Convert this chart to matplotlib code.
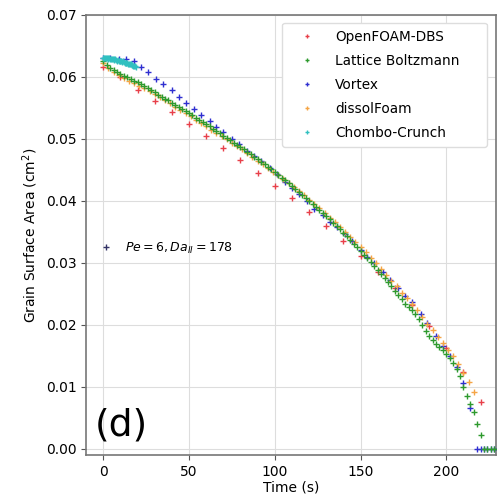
import matplotlib
matplotlib.use("Agg")
import matplotlib.pyplot as plt
from matplotlib.lines import Line2D

# ==========================================================
# Data
# ==========================================================

dbs_t = [0, 10, 20, 30, 40, 50, 60, 70, 80, 90, 100, 110, 120, 130, 140,
         150, 160, 170, 180, 190, 200, 210, 220]
dbs_a = [0.0616, 0.0600, 0.0579, 0.0561, 0.0543, 0.0524, 0.0505, 0.0485,
         0.0466, 0.0445, 0.0424, 0.0405, 0.0382, 0.0360, 0.0335, 0.0311,
         0.0285, 0.0260, 0.0232, 0.0198, 0.0163, 0.0124, 0.0076]

lbm_t = [0, 2, 4, 6, 8, 10, 12, 14, 16, 18, 20, 22, 24, 26, 28, 30, 32, 34,
         36, 38, 40, 42, 44, 46, 48, 50, 52, 54, 56, 58, 60, 62, 64, 66, 68,
         70, 72, 74, 76, 78, 80, 82, 84, 86, 88, 90, 92, 94, 96, 98, 100,
         102, 104, 106, 108, 110, 112, 114, 116, 118, 120, 122, 124, 126,
         128, 130, 132, 134, 136, 138, 140, 142, 144, 146, 148, 150, 152,
         154, 156, 158, 160, 162, 164, 166, 168, 170, 172, 174, 176, 178,
         180, 182, 184, 186, 188, 190, 192, 194, 196, 198, 200, 202, 204,
         206, 208, 210, 212, 214, 216, 218, 220, 222, 224, 226, 228, 230]
lbm_a = [0.0625, 0.0619, 0.0615, 0.0611, 0.0608, 0.0605, 0.0602, 0.0599,
         0.0597, 0.0594, 0.0591, 0.0588, 0.0585, 0.0582, 0.0578, 0.0575,
         0.0571, 0.0568, 0.0565, 0.0562, 0.0558, 0.0555, 0.0552, 0.0548,
         0.0545, 0.0541, 0.0538, 0.0534, 0.0531, 0.0527, 0.0524, 0.0520,
         0.0516, 0.0513, 0.0509, 0.0505, 0.0502, 0.0498, 0.0494, 0.0490,
         0.0487, 0.0483, 0.0479, 0.0475, 0.0471, 0.0467, 0.0463, 0.0459,
         0.0455, 0.0451, 0.0446, 0.0442, 0.0437, 0.0433, 0.0428, 0.0424,
         0.0419, 0.0414, 0.0410, 0.0405, 0.0400, 0.0395, 0.0390, 0.0385,
         0.0380, 0.0375, 0.0370, 0.0364, 0.0359, 0.0354, 0.0348, 0.0343,
         0.0337, 0.0331, 0.0325, 0.0319, 0.0313, 0.0307, 0.0301, 0.0295,
         0.0288, 0.0282, 0.0275, 0.0269, 0.0262, 0.0255, 0.0248, 0.0241,
         0.0234, 0.0228, 0.0224, 0.0218, 0.0209, 0.0199, 0.0190, 0.0182,
         0.0175, 0.0169, 0.0164, 0.0159, 0.0153, 0.0146, 0.0138, 0.0129,
         0.0118, 0.0100, 0.0085, 0.0072, 0.0060, 0.0040, 0.0022, 0.0,
         0.0, 0.0, 0.0, 0.0]

vortex_t = [0, 4, 9, 13, 18, 22, 26, 31, 35, 40, 44, 48, 53, 57, 62, 66, 70,
            75, 79, 84, 88, 92, 97, 101, 106, 110, 114, 119, 123, 128, 132,
            136, 141, 145, 150, 154, 158, 163, 167, 172, 176, 180, 185, 189,
            194, 198, 202, 206, 210, 214, 218, 220, 222, 224, 226, 228, 230]
vortex_a = [0.0630, 0.0630, 0.0629, 0.0628, 0.0625, 0.0616, 0.0608, 0.0597,
            0.0589, 0.0578, 0.0568, 0.0558, 0.0548, 0.0538, 0.0529, 0.0519,
            0.0511, 0.0500, 0.0491, 0.0481, 0.0472, 0.0464, 0.0453, 0.0444,
            0.0431, 0.0420, 0.0411, 0.0399, 0.0387, 0.0377, 0.0366, 0.0357,
            0.0346, 0.0335, 0.0320, 0.0310, 0.0299, 0.0285, 0.0273, 0.0259,
            0.0247, 0.0236, 0.0218, 0.0203, 0.0182, 0.0166, 0.0150, 0.0132,
            0.0106, 0.0066, 0.0, 0.0, 0.0, 0.0, 0.0, 0.0, 0.0]

dissol_t = [0, 3, 6, 9, 12, 15, 18, 21, 24, 27, 30, 33, 36, 39, 42, 45, 48,
            51, 54, 57, 60, 63, 66, 69, 72, 75, 78, 81, 84, 87, 90, 93, 96,
            99, 102, 105, 108, 111, 114, 117, 120, 123, 126, 129, 132, 135,
            138, 141, 144, 147, 150, 153, 156, 159, 162, 165, 168, 171, 174,
            177, 180, 183, 186, 189, 192, 195, 198, 201, 204, 207, 210, 213,
            216]
dissol_a = [0.0622, 0.0614, 0.0608, 0.0603, 0.0598, 0.0594, 0.0590, 0.0586,
            0.0582, 0.0577, 0.0572, 0.0567, 0.0562, 0.0557, 0.0552, 0.0547,
            0.0542, 0.0537, 0.0531, 0.0526, 0.0521, 0.0515, 0.0510, 0.0505,
            0.0499, 0.0494, 0.0488, 0.0483, 0.0477, 0.0471, 0.0465, 0.0459,
            0.0453, 0.0447, 0.0441, 0.0435, 0.0429, 0.0422, 0.0416, 0.0409,
            0.0402, 0.0395, 0.0388, 0.0381, 0.0373, 0.0366, 0.0358, 0.0350,
            0.0342, 0.0334, 0.0325, 0.0317, 0.0308, 0.0299, 0.0290, 0.0281,
            0.0271, 0.0262, 0.0252, 0.0243, 0.0234, 0.0224, 0.0213, 0.0202,
            0.0192, 0.0181, 0.0170, 0.0160, 0.0150, 0.0137, 0.0122, 0.0108,
            0.0092]

chombo_t = [0, 0.5, 1, 1.5, 2, 2.5, 3, 3.5, 4, 4.5, 5, 5.5, 6, 6.5, 7, 7.5,
            8, 8.5, 9, 9.5, 10, 10.5, 11, 11.5, 12, 12.5, 13, 13.5, 14, 14.5,
            15, 15.5, 16, 16.5, 17, 17.5, 18, 18.5, 19]
chombo_a = [0.0630, 0.0631, 0.0630, 0.0631, 0.0630, 0.0630, 0.0629, 0.0630,
            0.0629, 0.0629, 0.0628, 0.0629, 0.0628, 0.0627, 0.0628, 0.0627,
            0.0626, 0.0627, 0.0626, 0.0625, 0.0626, 0.0625, 0.0624, 0.0625,
            0.0624, 0.0623, 0.0623, 0.0622, 0.0622, 0.0621, 0.0621, 0.0620,
            0.0620, 0.0619, 0.0619, 0.0618, 0.0617, 0.0617, 0.0616]

# ==========================================================
# Plot
# ==========================================================

fig = plt.figure(figsize=(4.98, 4.95), dpi=100)
ax = fig.add_axes([0.173, 0.081, 0.823, 0.889])

ms = 4
ax.plot(dbs_t, dbs_a, "+", color="#e8404a", ms=ms, mew=1.0,
        label="OpenFOAM-DBS", zorder=3)
ax.plot(lbm_t, lbm_a, "+", color="#2e9a2e", ms=ms, mew=1.0,
        label="Lattice Boltzmann", zorder=4)
ax.plot(vortex_t, vortex_a, "+", color="#2f2fd0", ms=ms, mew=1.0,
        label="Vortex", zorder=3)
ax.plot(dissol_t, dissol_a, "+", color="#f5a545", ms=ms, mew=1.0,
        label="dissolFoam", zorder=3)
ax.plot(chombo_t, chombo_a, "+", color="#30c0c0", ms=ms, mew=1.0,
        label="Chombo-Crunch", zorder=5)

ax.set_xlim(-10, 229)
ax.set_ylim(-0.001, 0.07)
ax.set_xticks([0, 50, 100, 150, 200])
ax.set_yticks([0.0, 0.01, 0.02, 0.03, 0.04, 0.05, 0.06, 0.07])
ax.set_yticklabels([f"{v:.2f}" for v in ax.get_yticks()])
ax.tick_params(labelsize=10, color="#555555")
ax.grid(True, color="#dddddd", lw=0.8)
ax.set_axisbelow(True)
for s in ax.spines.values():
    s.set_color("#777777")
    s.set_linewidth(1.2)

ax.set_xlabel("Time (s)", fontsize=10, labelpad=1)
ax.set_ylabel("Grain Surface Area (cm$^2$)", fontsize=10, labelpad=4)

# wide legend box, text left-aligned with empty room on the right
leg = ax.legend(loc="upper left", bbox_to_anchor=(0.478, 0.982, 0.5, 0.0),
                mode="expand", borderaxespad=0.0, fontsize=9.8,
                markerscale=0.6, handlelength=2.6, handletextpad=0.8,
                borderpad=0.5, labelspacing=0.74,
                framealpha=1.0, edgecolor="#dddddd")
ax.add_artist(leg)

pe_handle = Line2D([], [], marker="+", ls="none", color="#333366", ms=4)
ax.legend([pe_handle], [r"$Pe=6, Da_{II}=178$"], loc="center left",
          bbox_to_anchor=(-0.01, 0.47), frameon=False, fontsize=9,
          handletextpad=0.5)

ax.text(0.02, 0.027, "(d)", transform=ax.transAxes, fontsize=27,
        ha="left", va="bottom")

fig.savefig("out.png", dpi=100)
